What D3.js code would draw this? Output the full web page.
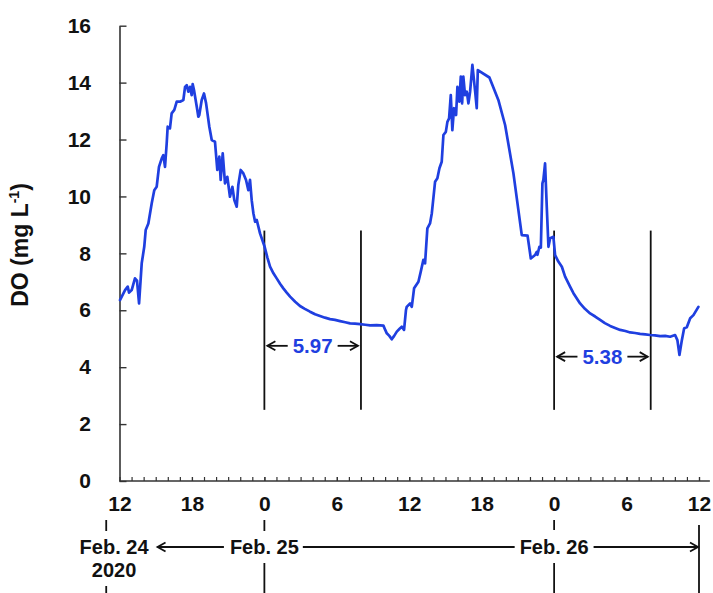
<!DOCTYPE html>
<html>
<head>
<meta charset="utf-8">
<script src="https://cdn.jsdelivr.net/npm/d3@7"></script>
<style>
  body { margin: 0; background: #fff; }
  text { font-family: "Liberation Sans", Arial, Helvetica, sans-serif; font-weight: bold; }
</style>
</head>
<body>
<svg id="chart" width="713" height="593"></svg>
<script>
// Dissolved oxygen record, hours counted from Feb. 24 2020 12:00
const timeHours = [
  0.04, 0.46, 0.68, 0.79, 1.01, 1.28, 1.45, 1.62, 1.84, 2.05, 2.17, 2.39, 2.67, 2.88, 3.08, 3.27,
  3.50, 3.63, 3.77, 3.91, 3.99, 4.18, 4.32, 4.54, 4.74, 5.01, 5.29, 5.43, 5.57, 5.70, 5.84, 5.98,
  6.06, 6.17, 6.40, 6.53, 6.61, 6.81, 7.00, 7.17, 7.44, 7.64, 7.91, 8.10, 8.27, 8.38, 8.55, 8.74,
  8.93, 9.15, 9.35, 9.51, 9.71, 9.84, 10.04, 10.26, 10.48, 10.67, 10.81, 10.95, 11.09, 11.23, 11.37, 11.64,
  12.00, 12.25, 12.47, 12.75, 13.02, 13.30, 13.57, 13.85, 14.13, 14.55, 14.95, 15.35, 15.78, 16.20, 16.61, 17.02,
  17.44, 17.85, 18.27, 18.70, 19.10, 19.50, 19.93, 20.35, 20.76, 21.30, 21.86, 22.02, 22.14, 22.35, 22.55, 22.75,
  22.97, 23.20, 23.38, 23.57, 23.73, 23.79, 24.07, 24.21, 24.40, 24.76, 24.95, 25.17, 25.31, 25.50, 25.72, 25.87,
  26.14, 26.33, 26.50, 26.69, 26.83, 27.03, 27.16, 27.30, 27.44, 27.57, 27.71, 27.88, 27.99, 28.15, 28.27, 28.38,
  28.48, 28.62, 28.77, 28.90, 29.04, 29.23, 29.46, 29.59, 29.68, 30.64, 31.38, 31.94, 32.63, 33.32, 33.80, 34.07,
  34.42, 34.56, 34.62, 34.78, 34.90, 35.03, 35.11, 35.25, 35.39, 35.53, 35.67, 35.94, 36.08, 36.35, 36.64, 36.91,
  37.32, 37.60, 38.15, 38.55, 38.98, 39.40, 39.81, 40.20, 40.64, 41.05, 41.47, 41.90, 42.30, 42.70, 43.12, 43.55,
  43.95, 44.35, 44.78, 45.20, 45.61, 46.02, 46.21, 46.38, 46.58, 46.77, 46.99, 47.27, 47.54, 47.95
];
const doMgL = [
  6.36, 6.71, 6.83, 6.62, 6.71, 7.12, 7.04, 6.24, 7.65, 8.23, 8.82, 9.05, 9.76, 10.22, 10.34, 11.04,
  11.34, 11.45, 11.04, 11.87, 12.45, 12.39, 12.92, 13.04, 13.33, 13.33, 13.39, 13.85, 13.91, 13.68, 13.85, 13.56,
  13.95, 13.74, 13.15, 12.80, 12.86, 13.39, 13.62, 13.28, 12.45, 11.98, 11.92, 10.93, 11.40, 10.58, 11.51, 10.46,
  10.69, 9.99, 10.34, 9.87, 9.64, 10.40, 10.93, 10.81, 10.58, 10.22, 10.58, 9.87, 9.41, 9.11, 9.17, 8.70,
  8.26, 7.85, 7.53, 7.30, 7.12, 6.93, 6.77, 6.62, 6.48, 6.30, 6.15, 6.05, 5.95, 5.86, 5.80, 5.74,
  5.69, 5.66, 5.62, 5.58, 5.54, 5.53, 5.51, 5.49, 5.47, 5.48, 5.46, 5.30, 5.19, 5.10, 4.98, 5.10,
  5.25, 5.35, 5.42, 5.31, 6.01, 6.12, 6.24, 6.12, 6.77, 7.00, 7.35, 7.77, 7.65, 8.88, 9.05, 9.41,
  10.52, 10.64, 10.99, 11.22, 12.16, 12.27, 12.62, 12.74, 13.56, 12.33, 13.10, 12.86, 13.85, 13.33, 14.21, 13.27,
  14.21, 13.56, 13.68, 13.27, 13.68, 14.62, 13.68, 13.10, 14.44, 14.18, 13.39, 12.51, 10.81, 8.64, 8.62, 7.82,
  7.94, 8.05, 7.95, 8.23, 8.20, 10.46, 10.58, 11.16, 9.64, 8.23, 8.53, 8.58, 7.94, 7.71, 7.53, 7.18,
  6.83, 6.60, 6.24, 6.05, 5.89, 5.78, 5.66, 5.55, 5.45, 5.38, 5.31, 5.27, 5.22, 5.20, 5.17, 5.15,
  5.13, 5.12, 5.09, 5.10, 5.07, 5.13, 4.95, 4.43, 4.95, 5.37, 5.40, 5.72, 5.83, 6.12
];

const hourTicks = [0, 6, 12, 18, 24, 30, 36, 42, 48];
const hourTickLabels = ["12", "18", "0", "6", "12", "18", "0", "6", "12"];
const doTicks = [0, 2, 4, 6, 8, 10, 12, 14, 16];

// Night windows with their mean DO
const windowStart = [12, 36];
const windowEnd = [20, 44];
const windowMean = ["5.97", "5.38"];
const windowLabelLevel = [4.75, 4.37];
const windowLineTop = 8.8;
const windowLineBottom = 2.5;

// Date annotation below the time axis
const dayLabels = ["Feb. 24", "Feb. 25", "Feb. 26"];
const dayLabelHours = [-0.45, 12, 36];
const yearLabel = "2020";

const svg = d3.select("#chart");
const blue = "#1f3fe0";
const axisColor = "#333";
const FONT = '"Liberation Sans", Arial, sans-serif';

const x = d3.scaleLinear().domain([0, 48]).range([119.5, 699]);
const y = d3.scaleLinear().domain([0, 16]).range([481, 25.7]);

// Y axis
const yAxis = svg.append("g")
  .attr("transform", `translate(${x(0)},0)`)
  .call(d3.axisLeft(y).tickValues(doTicks).tickSize(-7).tickSizeOuter(0).tickPadding(28.5));
yAxis.select(".domain").attr("stroke", axisColor).attr("stroke-width", 1.6);
yAxis.selectAll(".tick line").attr("stroke", axisColor).attr("stroke-width", 1.4);
yAxis.selectAll(".tick text").attr("font-size", 21).attr("fill", "#111")
  .style("font-family", FONT).style("font-weight", "bold");

// X axis: hourly minor ticks, labelled every 6 h
const xAxisG = svg.append("g").attr("transform", `translate(0,${y(0)})`);
xAxisG.append("line")
  .attr("x1", x(0)).attr("x2", x(48.9))
  .attr("stroke", axisColor).attr("stroke-width", 1.6);
const minor = xAxisG.append("g")
  .call(d3.axisBottom(x).tickValues(d3.range(1, 49)).tickSize(-4).tickFormat(""));
minor.select(".domain").remove();
minor.selectAll(".tick line").attr("stroke", axisColor).attr("stroke-width", 1.2);
const major = xAxisG.append("g")
  .call(d3.axisBottom(x).tickValues(hourTicks).tickSize(-4)
    .tickFormat((d, i) => hourTickLabels[i]).tickPadding(15.5));
major.select(".domain").remove();
major.selectAll(".tick line").attr("stroke", axisColor).attr("stroke-width", 1.2);
major.selectAll(".tick text").attr("font-size", 21).attr("fill", "#111")
  .style("font-family", FONT).style("font-weight", "bold");

// Y axis title
const yTitle = svg.append("text")
  .attr("transform", "translate(28,245) rotate(-90)")
  .attr("text-anchor", "middle")
  .attr("font-size", 23)
  .attr("fill", "#111");
yTitle.append("tspan").text("DO (mg L");
yTitle.append("tspan").attr("font-size", 14).attr("dy", -9).text("-1");
yTitle.append("tspan").attr("dy", 9).text(")");

// Window boundary lines
const boundaries = windowStart.concat(windowEnd);
svg.append("g").selectAll("line").data(boundaries).join("line")
  .attr("x1", d => x(d)).attr("x2", d => x(d))
  .attr("y1", y(windowLineTop)).attr("y2", y(windowLineBottom))
  .attr("stroke", "#111").attr("stroke-width", 1.8);

// DO trace
const series = timeHours.map((t, i) => ({ t, v: doMgL[i] }));
svg.append("path")
  .datum(series)
  .attr("fill", "none")
  .attr("stroke", blue)
  .attr("stroke-width", 2.7)
  .attr("stroke-linejoin", "round")
  .attr("stroke-linecap", "round")
  .attr("d", d3.line().x(d => x(d.t)).y(d => y(d.v)));

// Arrow helper: shaft from xa to xb, open head at xb
function arrow(g, xa, xb, yy, color) {
  const dir = xb > xa ? 1 : -1;
  g.append("line").attr("x1", xa).attr("x2", xb).attr("y1", yy).attr("y2", yy)
    .attr("stroke", color).attr("stroke-width", 1.8);
  g.append("path")
    .attr("d", `M${xb - dir * 8},${yy - 4.5} L${xb},${yy} L${xb - dir * 8},${yy + 4.5}`)
    .attr("fill", "none").attr("stroke", color).attr("stroke-width", 1.8)
    .attr("stroke-linejoin", "miter");
}

// Mean-value annotations inside each window
const ann = svg.append("g");
windowStart.forEach((s, i) => {
  const e = windowEnd[i];
  const cx = x((s + e) / 2);
  const yy = y(windowLabelLevel[i]);
  const label = ann.append("text")
    .attr("x", cx).attr("y", yy).attr("dy", "0.35em")
    .attr("text-anchor", "middle").attr("font-size", 20.5).attr("fill", blue)
    .text(windowMean[i]);
  const half = label.node().getComputedTextLength() / 2;
  arrow(ann, cx - half - 5, x(s) + 3, yy, "#111");
  arrow(ann, cx + half + 5, x(e) - 3, yy, "#111");
});

// Date annotation under the axis
const dates = svg.append("g");
const dateY = 547;
const dateTexts = dayLabels.map((lab, i) =>
  dates.append("text")
    .attr("x", x(dayLabelHours[i])).attr("y", dateY).attr("dy", "0.36em")
    .attr("text-anchor", "middle").attr("font-size", 20).attr("fill", "#111")
    .text(lab));
dates.append("text")
  .attr("x", x(dayLabelHours[0])).attr("y", 577)
  .attr("text-anchor", "middle").attr("font-size", 20).attr("fill", "#111")
  .text(yearLabel);

const w = dateTexts.map(t => t.node().getComputedTextLength());
const left0 = x(dayLabelHours[0]) + w[0] / 2;
const left1 = x(dayLabelHours[1]) - w[1] / 2;
const right1 = x(dayLabelHours[1]) + w[1] / 2;
const left2 = x(dayLabelHours[2]) - w[2] / 2;
const right2 = x(dayLabelHours[2]) + w[2] / 2;
arrow(dates, left1 - 6, left0 + 9, dateY, "#111");
dates.append("line").attr("x1", right1 + 4).attr("x2", left2 - 5)
  .attr("y1", dateY).attr("y2", dateY).attr("stroke", "#111").attr("stroke-width", 1.8);
arrow(dates, right2 + 5, x(48) - 1, dateY, "#111");

// Day boundary marks
const markLines = [
  { h: -1.1, y1: 520, y2: 531 }, { h: -1.1, y1: 586, y2: 593 },
  { h: 12, y1: 520, y2: 531 }, { h: 12, y1: 563, y2: 593 },
  { h: 36, y1: 520, y2: 530 }, { h: 36, y1: 563, y2: 593 },
  { h: 48, y1: 525, y2: 593 }
];
dates.selectAll("line.mark").data(markLines).join("line")
  .attr("class", "mark")
  .attr("x1", d => x(d.h)).attr("x2", d => x(d.h))
  .attr("y1", d => d.y1).attr("y2", d => d.y2)
  .attr("stroke", "#111").attr("stroke-width", 1.8);
</script>
</body>
</html>
